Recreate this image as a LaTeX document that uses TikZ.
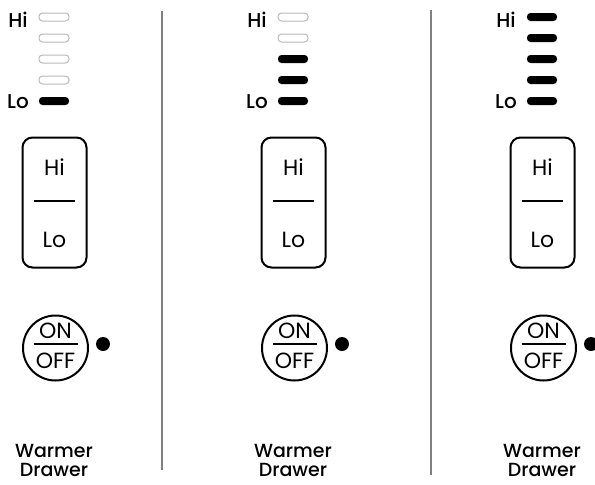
\documentclass[tikz,border=0pt]{standalone}
\usepackage{fontspec}
\setmainfont{Poppins}[BoldFont=* Medium]
\begin{document}
\begin{tikzpicture}[x=1pt, y=-1pt, every node/.style={inner sep=0pt},
  level/.style={font=\bfseries\fontsize{20}{20}\selectfont},
  bar/.style={rectangle, minimum width=30pt, minimum height=8pt, rounded corners=3.5pt},
  lit/.style={bar, fill=black},
  unlit/.style={bar, draw=gray!55, line width=1pt},
  rocker/.style={draw, line width=2pt, rounded corners=10pt, minimum width=64pt, minimum height=130pt},
  knob/.style={draw, circle, line width=2pt, minimum size=65pt},
  lamp/.style={circle, fill=black, minimum size=14pt},
  keytext/.style={font=\fontsize{22}{22}\selectfont},
  caption/.style={font=\bfseries\fontsize{19}{19}\selectfont, align=center}]
\useasboundingbox (0,0) rectangle (595,485);
% separators
\draw[gray, line width=2.4pt] (162,11) -- (162,470);
\draw[gray, line width=2.4pt] (431,10) -- (431,475);
\foreach \dx/\n [count=\i] in {0/1, 239/3, 488/5} {
\begin{scope}[xshift=\dx]
\node[level] (hi\i) at (18,20) {Hi};
\node[level] (lo\i) at (18,102) {Lo};
\foreach \k in {1,...,5} {
  \ifnum\k>\n \def\barstate{unlit}\else\def\barstate{lit}\fi
  \node[\barstate] (bar\i-\k) at (54,101-21*\k+21) {};
}
% hi/lo rocker
\node[rocker] (rocker\i) at (54.5,202.5) {};
\node[keytext] (rhi\i) at (54.5,167) {Hi};
\node[keytext] (rlo\i) at (54.5,240) {Lo};
\draw[line width=1.6pt] ([xshift=-21pt,yshift=1.5pt]rocker\i.center) -- ([xshift=20pt,yshift=1.5pt]rocker\i.center);
% on/off knob
\node[knob] (knob\i) at (55.5,348) {};
\node[keytext] (on\i) at (55.5,330.5) {ON};
\node[keytext] (off\i) at (55.5,361) {OFF};
\draw[line width=1.8pt] ([xshift=-22pt,yshift=4pt]knob\i.center) -- ([xshift=22pt,yshift=4pt]knob\i.center);
\node[lamp] (lamp\i) at (103,344) {};
\node[caption] (cap\i) at (54,460) {Warmer\\Drawer};
\end{scope}
}
\end{tikzpicture}
\end{document}
